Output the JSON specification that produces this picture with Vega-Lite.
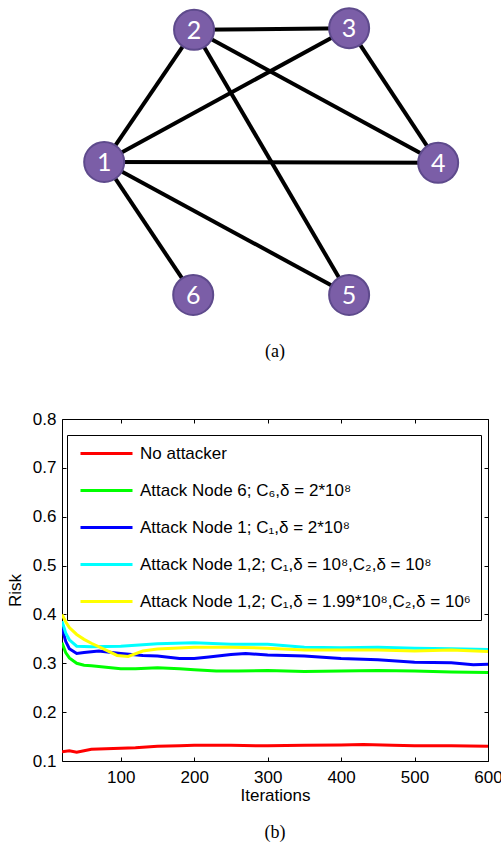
{
  "$schema": "https://vega.github.io/schema/vega-lite/v6.json",
  "padding": {"left": 5, "top": 0, "right": 0, "bottom": 0},
  "background": "white",
  "spacing": 48,
  "config": {"font": "Liberation Sans", "concat": {"spacing": 48}},
  "resolve": {"scale": {"color": "independent"}, "legend": {"color": "independent"}},
  "datasets": {
    "nodes": [
      {"id": 1, "gx": 0.99, "gy": 4.2},
      {"id": 2, "gx": 3.1, "gy": 7.3},
      {"id": 3, "gx": 6.74, "gy": 7.34},
      {"id": 4, "gx": 8.83, "gy": 4.18},
      {"id": 5, "gx": 6.74, "gy": 1.08},
      {"id": 6, "gx": 3.08, "gy": 1.08}
    ],
    "edges": [
      {"s": 1, "t": 2}, {"s": 2, "t": 3}, {"s": 1, "t": 3}, {"s": 1, "t": 4}, {"s": 1, "t": 5},
      {"s": 1, "t": 6}, {"s": 2, "t": 4}, {"s": 2, "t": 5}, {"s": 3, "t": 4}
    ],
    "series": [
      {"k": "A", "name": "No attacker"},
      {"k": "B", "name": "Attack Node 6; C₆,δ = 2*10⁸"},
      {"k": "C", "name": "Attack Node 1; C₁,δ = 2*10⁸"},
      {"k": "D", "name": "Attack Node 1,2; C₁,δ = 10⁸,C₂,δ = 10⁸"},
      {"k": "E", "name": "Attack Node 1,2; C₁,δ = 1.99*10⁸,C₂,δ = 10⁶"}
    ],
    "risk": [
      {"k": "A", "it": 20, "r": 0.119}, {"k": "A", "it": 30, "r": 0.121}, {"k": "A", "it": 40, "r": 0.118}, {"k": "A", "it": 50, "r": 0.121},
      {"k": "A", "it": 60, "r": 0.124}, {"k": "A", "it": 80, "r": 0.125}, {"k": "A", "it": 100, "r": 0.126}, {"k": "A", "it": 120, "r": 0.127},
      {"k": "A", "it": 150, "r": 0.130}, {"k": "A", "it": 180, "r": 0.131}, {"k": "A", "it": 200, "r": 0.132}, {"k": "A", "it": 250, "r": 0.132},
      {"k": "A", "it": 300, "r": 0.131}, {"k": "A", "it": 350, "r": 0.132}, {"k": "A", "it": 400, "r": 0.133}, {"k": "A", "it": 430, "r": 0.134},
      {"k": "A", "it": 470, "r": 0.132}, {"k": "A", "it": 500, "r": 0.131}, {"k": "A", "it": 550, "r": 0.131}, {"k": "A", "it": 600, "r": 0.130},

      {"k": "B", "it": 20, "r": 0.342}, {"k": "B", "it": 25, "r": 0.322}, {"k": "B", "it": 30, "r": 0.311}, {"k": "B", "it": 40, "r": 0.300},
      {"k": "B", "it": 50, "r": 0.296}, {"k": "B", "it": 60, "r": 0.295}, {"k": "B", "it": 80, "r": 0.292}, {"k": "B", "it": 100, "r": 0.289},
      {"k": "B", "it": 120, "r": 0.289}, {"k": "B", "it": 150, "r": 0.291}, {"k": "B", "it": 180, "r": 0.289}, {"k": "B", "it": 200, "r": 0.287},
      {"k": "B", "it": 230, "r": 0.284}, {"k": "B", "it": 260, "r": 0.284}, {"k": "B", "it": 300, "r": 0.285}, {"k": "B", "it": 350, "r": 0.283},
      {"k": "B", "it": 400, "r": 0.284}, {"k": "B", "it": 450, "r": 0.285}, {"k": "B", "it": 500, "r": 0.284}, {"k": "B", "it": 550, "r": 0.282},
      {"k": "B", "it": 600, "r": 0.281},

      {"k": "C", "it": 20, "r": 0.373}, {"k": "C", "it": 25, "r": 0.345}, {"k": "C", "it": 30, "r": 0.330}, {"k": "C", "it": 40, "r": 0.320},
      {"k": "C", "it": 50, "r": 0.322}, {"k": "C", "it": 70, "r": 0.325}, {"k": "C", "it": 100, "r": 0.320}, {"k": "C", "it": 130, "r": 0.316},
      {"k": "C", "it": 150, "r": 0.315}, {"k": "C", "it": 180, "r": 0.310}, {"k": "C", "it": 200, "r": 0.310}, {"k": "C", "it": 220, "r": 0.313},
      {"k": "C", "it": 250, "r": 0.318}, {"k": "C", "it": 270, "r": 0.320}, {"k": "C", "it": 300, "r": 0.317}, {"k": "C", "it": 350, "r": 0.315},
      {"k": "C", "it": 400, "r": 0.310}, {"k": "C", "it": 450, "r": 0.307}, {"k": "C", "it": 500, "r": 0.302}, {"k": "C", "it": 550, "r": 0.301},
      {"k": "C", "it": 580, "r": 0.297}, {"k": "C", "it": 600, "r": 0.298},

      {"k": "D", "it": 20, "r": 0.386}, {"k": "D", "it": 25, "r": 0.362}, {"k": "D", "it": 30, "r": 0.348}, {"k": "D", "it": 40, "r": 0.335},
      {"k": "D", "it": 60, "r": 0.334}, {"k": "D", "it": 100, "r": 0.335}, {"k": "D", "it": 150, "r": 0.340}, {"k": "D", "it": 200, "r": 0.342},
      {"k": "D", "it": 250, "r": 0.339}, {"k": "D", "it": 300, "r": 0.339}, {"k": "D", "it": 350, "r": 0.333}, {"k": "D", "it": 400, "r": 0.332},
      {"k": "D", "it": 450, "r": 0.333}, {"k": "D", "it": 500, "r": 0.331}, {"k": "D", "it": 550, "r": 0.330}, {"k": "D", "it": 600, "r": 0.328},

      {"k": "E", "it": 20, "r": 0.400}, {"k": "E", "it": 25, "r": 0.385}, {"k": "E", "it": 30, "r": 0.373}, {"k": "E", "it": 40, "r": 0.359},
      {"k": "E", "it": 50, "r": 0.349}, {"k": "E", "it": 60, "r": 0.341}, {"k": "E", "it": 80, "r": 0.327}, {"k": "E", "it": 95, "r": 0.316},
      {"k": "E", "it": 110, "r": 0.314}, {"k": "E", "it": 130, "r": 0.325}, {"k": "E", "it": 150, "r": 0.329}, {"k": "E", "it": 200, "r": 0.333},
      {"k": "E", "it": 250, "r": 0.333}, {"k": "E", "it": 300, "r": 0.331}, {"k": "E", "it": 350, "r": 0.327}, {"k": "E", "it": 400, "r": 0.327},
      {"k": "E", "it": 450, "r": 0.327}, {"k": "E", "it": 500, "r": 0.325}, {"k": "E", "it": 550, "r": 0.327}, {"k": "E", "it": 600, "r": 0.324}
    ]
  },
  "vconcat": [
    {
      "width": 426,
      "height": 341,
      "view": {"stroke": null},
      "title": {"text": "(a)", "orient": "bottom", "font": "Liberation Serif", "fontSize": 18, "fontWeight": "normal", "offset": 2, "anchor": "middle", "color": "black"},
      "layer": [
        {
          "data": {"name": "edges"},
          "transform": [
            {"lookup": "s", "from": {"data": {"name": "nodes"}, "key": "id", "fields": ["gx", "gy"]}, "as": ["sx", "sy"]},
            {"lookup": "t", "from": {"data": {"name": "nodes"}, "key": "id", "fields": ["gx", "gy"]}, "as": ["tx", "ty"]}
          ],
          "mark": {"type": "rule", "color": "black", "strokeWidth": 4},
          "encoding": {
            "x": {"field": "sx", "type": "quantitative", "scale": {"domain": [0, 10], "nice": false, "zero": false}, "axis": null},
            "y": {"field": "sy", "type": "quantitative", "scale": {"domain": [0, 8], "nice": false, "zero": false}, "axis": null},
            "x2": {"field": "tx"},
            "y2": {"field": "ty"}
          }
        },
        {
          "data": {"name": "nodes"},
          "mark": {"type": "point", "filled": true, "fill": "#7b5ea7", "stroke": "#5e4a8c", "strokeWidth": 2, "opacity": 1, "size": 1600},
          "encoding": {
            "x": {"field": "gx", "type": "quantitative"},
            "y": {"field": "gy", "type": "quantitative"}
          }
        },
        {
          "data": {"name": "nodes"},
          "mark": {"type": "text", "color": "white", "fontSize": 25, "font": "Lato", "baseline": "middle", "align": "center", "dy": 1},
          "encoding": {
            "x": {"field": "gx", "type": "quantitative"},
            "y": {"field": "gy", "type": "quantitative"},
            "text": {"field": "id", "type": "nominal"}
          }
        }
      ]
    },
    {
      "width": 426,
      "height": 342,
      "view": {"stroke": "black", "strokeWidth": 1},
      "title": {"text": "(b)", "orient": "bottom", "font": "Liberation Serif", "fontSize": 18, "fontWeight": "normal", "offset": 21, "anchor": "middle", "color": "black"},
      "data": {"name": "risk"},
      "transform": [
        {"lookup": "k", "from": {"data": {"name": "series"}, "key": "k", "fields": ["name"]}}
      ],
      "layer": [
        {
          "mark": {"type": "line", "strokeWidth": 3, "clip": true},
          "encoding": {
            "x": {"field": "it", "type": "quantitative", "scale": {"domain": [20, 600], "nice": false, "zero": false},
              "axis": {"orient": "bottom", "values": [100, 200, 300, 400, 500, 600], "tickSize": -4, "labelPadding": 12, "domain": false, "grid": false,
                "title": "Iterations", "labelFontSize": 17, "titleFontSize": 17, "titleFontWeight": "normal", "labelColor": "black", "titleColor": "black",
                "tickColor": "black", "titlePadding": 2, "labelFlush": false, "labelOverlap": false}},
            "y": {"field": "r", "type": "quantitative", "scale": {"domain": [0.1, 0.8], "nice": false, "zero": false},
              "axis": {"orient": "left", "values": [0.1, 0.2, 0.3, 0.4, 0.5, 0.6, 0.7, 0.8], "format": ".1f", "tickSize": -4, "labelPadding": 10, "domain": false, "grid": false,
                "title": "Risk", "labelFontSize": 17, "titleFontSize": 17, "titleFontWeight": "normal", "labelColor": "black", "titleColor": "black",
                "tickColor": "black", "titlePadding": 8, "labelFlush": false, "labelOverlap": false}},
            "color": {"field": "name", "type": "nominal",
              "scale": {"domain": ["No attacker", "Attack Node 6; C₆,δ = 2*10⁸", "Attack Node 1; C₁,δ = 2*10⁸", "Attack Node 1,2; C₁,δ = 10⁸,C₂,δ = 10⁸", "Attack Node 1,2; C₁,δ = 1.99*10⁸,C₂,δ = 10⁶"],
                "range": ["#ff0000", "#00ff00", "#0000ff", "#00ffff", "#ffff00"]},
              "legend": {"orient": "none", "legendX": 5, "legendY": 16, "title": null, "strokeColor": "black", "fillColor": "white", "padding": 10,
                "symbolType": "M-4,0L4,0", "symbolSize": 169, "symbolStrokeWidth": 3, "symbolOffset": 21, "labelOffset": 25, "rowPadding": 19,
                "labelFontSize": 17, "labelFont": "Liberation Sans", "labelColor": "black", "labelLimit": 600}}
          }
        },
        {
          "mark": {"type": "point", "opacity": 0},
          "encoding": {
            "x": {"field": "it", "type": "quantitative",
              "axis": {"orient": "top", "values": [100, 200, 300, 400, 500, 600], "tickSize": -4, "labels": false, "domain": false, "grid": false, "title": null, "tickColor": "black"}},
            "y": {"field": "r", "type": "quantitative",
              "axis": {"orient": "right", "values": [0.1, 0.2, 0.3, 0.4, 0.5, 0.6, 0.7, 0.8], "tickSize": -4, "labels": false, "domain": false, "grid": false, "title": null, "tickColor": "black"}}
          }
        }
      ],
      "resolve": {"axis": {"x": "independent", "y": "independent"}}
    }
  ]
}
